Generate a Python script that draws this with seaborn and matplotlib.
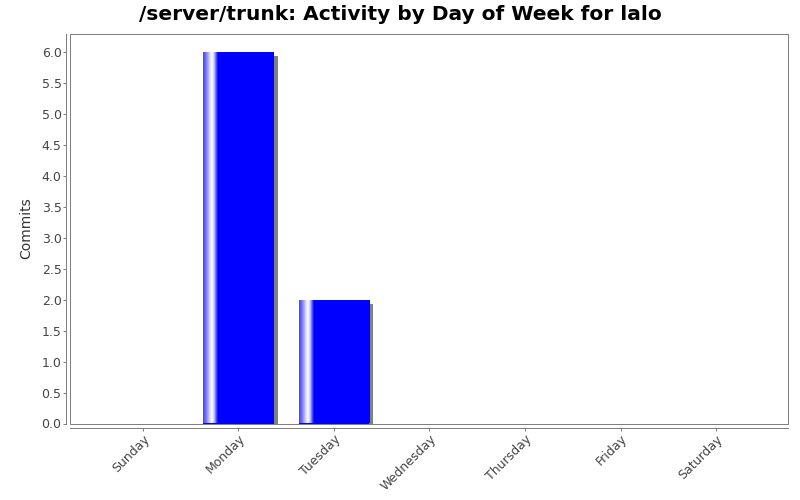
import numpy as np
import pandas as pd
import seaborn as sns
import matplotlib.pyplot as plt
import matplotlib.patheffects as pe
from matplotlib.patches import Rectangle

# data
days = ['Sunday', 'Monday', 'Tuesday', 'Wednesday', 'Thursday', 'Friday', 'Saturday']
commits = [0, 6, 2, 0, 0, 0, 0]
title = '/server/trunk: Activity by Day of Week for lalo'

df = pd.DataFrame({'day': days, 'commits': commits})

sns.set_style('white')
plt.rcParams['font.family'] = ['DejaVu Sans']

fig = plt.figure(figsize=(8, 5), dpi=100)
ax = fig.add_axes([0.0881, 0.153, 0.8975, 0.78])
sns.barplot(data=df, x='day', y='commits', color='#0000ff', saturation=1,
            width=0.74, ax=ax, zorder=2, edgecolor='none', linewidth=0)

# shadow + highlight gradient like the old jfreechart bars
px = 72 / fig.dpi
t = np.linspace(0, 1, 400)
w = np.interp(t, [0, 0.04, 0.12, 0.15, 0.21, 1], [0.25, 0.45, 1.0, 0.85, 0.0, 0.0])
grad = np.zeros((1, len(t), 3))
grad[0, :, 0] = w
grad[0, :, 1] = w
grad[0, :, 2] = 1.0
for bar in ax.patches:
    h = bar.get_height()
    if h <= 0:
        continue
    bar.set_path_effects([pe.SimplePatchShadow(offset=(4 * px, -4 * px),
                                               shadow_rgbFace='#808080', alpha=1.0),
                          pe.Normal()])
    x0 = bar.get_x()
    im = ax.imshow(grad, extent=(x0, x0 + bar.get_width(), 0, h),
                   aspect='auto', zorder=3, interpolation='bilinear')
    im.set_clip_path(bar)

ax.set_xlim(-0.757, 6.757)
ax.set_ylim(0, 6.3)
ax.set_yticks(np.arange(0, 6.01, 0.5))
ax.set_yticklabels([f'{v:.1f}' for v in np.arange(0, 6.01, 0.5)])

# axis look: outline box + separate axis lines 4px outside
grey = '#808080'
lw = px
ax.spines['top'].set_visible(False)
ax.spines['right'].set_visible(False)
for side in ['left', 'bottom']:
    ax.spines[side].set_color(grey)
    ax.spines[side].set_linewidth(lw)
    ax.spines[side].set_position(('outward', 4 * px))
ax.add_patch(Rectangle((0, 0), 1, 1, transform=ax.transAxes, fill=False,
                       edgecolor=grey, lw=lw, clip_on=False, zorder=5))
ax.tick_params(axis='both', length=2, width=lw, color=grey, labelcolor='#444444',
               labelsize=9, left=True, bottom=True, pad=1.5)
plt.setp(ax.get_xticklabels(), rotation=45, ha='right', rotation_mode='anchor')

ax.set_xlabel('')
ax.set_ylabel('Commits', fontsize=10, color='#333333', labelpad=6)
fig.text(0.5, 0.972, title, ha='center', va='center', fontsize=14.5,
         fontweight='bold', color='black')

fig.savefig('out.png', dpi=100)
